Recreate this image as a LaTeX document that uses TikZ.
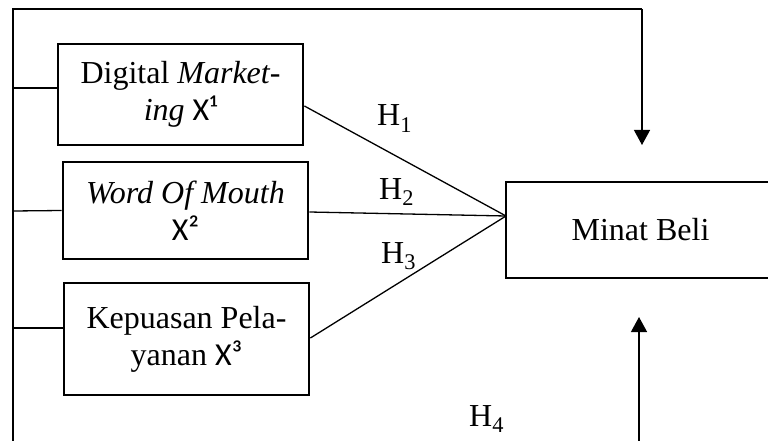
\documentclass[tikz,border=0pt]{standalone}
\usepackage{fontspec}
\setmainfont{Liberation Serif}
\newfontfamily\carl{Carlito}
\usetikzlibrary{arrows.meta}
\begin{document}
\begin{tikzpicture}[x=1pt,y=-1pt,
  varbox/.style={draw,line width=2.8pt,align=center,inner sep=0pt,font=\fontsize{32}{37}\selectfont},
  conn/.style={line width=1.3pt},
  arr/.style={line width=1.3pt,-{Triangle[width=16pt,length=15pt]}},
  hlabel/.style={anchor=base west,inner sep=0pt,font=\fontsize{32}{37}\selectfont}]
\useasboundingbox (0,0) rectangle (768,441);
\node[varbox,minimum width=245pt,minimum height=101pt] (b1) at (180.5,94.5) {Digital \textit{Market-}\\\textit{ing} {\carl X¹}};
\node[varbox,minimum width=245pt,minimum height=97pt] (b2) at (185.5,210.5) {\textit{Word Of Mouth}\\{\carl X²}};
\node[varbox,minimum width=245pt,minimum height=112pt] (b3) at (186.5,339) {Kepuasan Pela-\\yanan {\carl X³}};
\node[varbox,minimum width=269pt,minimum height=96pt] (mb) at (640.5,230) {Minat Beli};
\coordinate (tl) at (13,9);
\coordinate (bl) at (13,445);
\coordinate (tr) at (642,9);
\coordinate (br) at (639,445);
\coordinate (l1) at (13,88);
\coordinate (l2) at (13,211);
\coordinate (l3) at (13,328);
\coordinate (conv) at (506,216);
\coordinate (dtip) at (642,145);
\coordinate (utip) at (639,317);
\draw[conn] (bl) -- (tl) -- (tr);
\draw[arr] (tr) -- (dtip);
\draw[arr] (br) -- (utip);
\draw[conn] (l1) -- (l1 -| b1.west);
\draw[conn] (l2) -- (b2.west);
\draw[conn] (l3) -- (l3 -| b3.west);
\draw[conn] ([yshift=-11.5pt]b1.east) -- (conv);
\draw[conn] ([yshift=-1.5pt]b2.east) -- (conv);
\draw[conn] ([yshift=1pt]b3.east) -- (conv);
\node[hlabel] (h1) at (377,126) {H\textsubscript{1}};
\node[hlabel] (h2) at (379,199) {H\textsubscript{2}};
\node[hlabel] (h3) at (381,263) {H\textsubscript{3}};
\node[hlabel] (h4) at (469,426) {H\textsubscript{4}};
\end{tikzpicture}
\end{document}
